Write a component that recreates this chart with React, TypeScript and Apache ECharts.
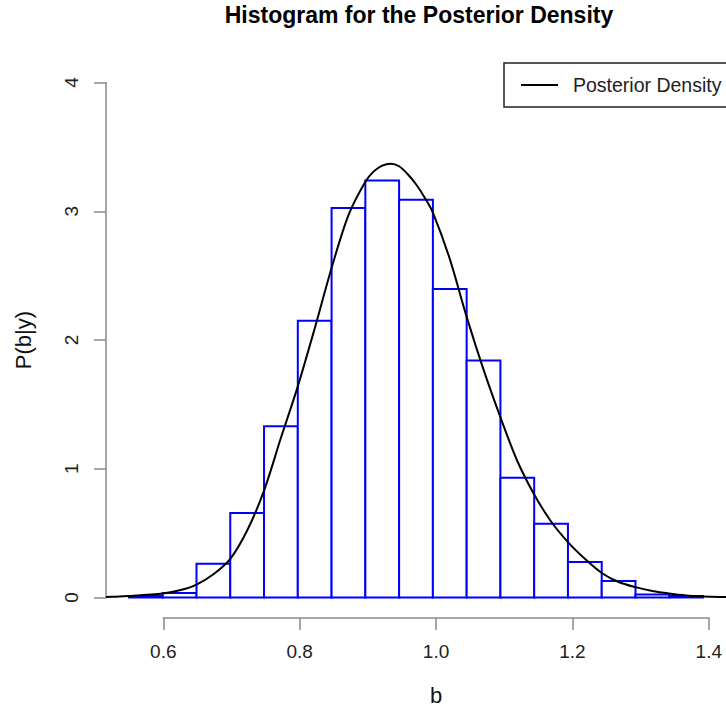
import React, { useEffect, useRef } from "react";
import * as echarts from "echarts";

// Histogram bins (edges) and densities
const binStarts = [0.55, 0.6, 0.65, 0.7, 0.75, 0.8, 0.85, 0.9, 0.95, 1.0, 1.05, 1.1, 1.15, 1.2, 1.25, 1.3, 1.35];
const binEnds = [0.6, 0.65, 0.7, 0.75, 0.8, 0.85, 0.9, 0.95, 1.0, 1.05, 1.1, 1.15, 1.2, 1.25, 1.3, 1.35, 1.4];
const binDensity = [0.01, 0.035, 0.262, 0.656, 1.33, 2.15, 3.025, 3.24, 3.09, 2.397, 1.84, 0.93, 0.573, 0.275, 0.127, 0.023, 0.01];

// Posterior density curve
const curveX = [0.516, 0.525, 0.55, 0.575, 0.6, 0.625, 0.65, 0.675, 0.7, 0.725, 0.75, 0.775, 0.8, 0.825, 0.85, 0.875, 0.9, 0.9125, 0.925, 0.9375, 0.95, 0.9625, 0.975, 0.9875, 1.0, 1.025, 1.05, 1.075, 1.1, 1.125, 1.15, 1.175, 1.2, 1.225, 1.25, 1.275, 1.3, 1.325, 1.35, 1.375, 1.4, 1.425, 1.45];
const curveY = [0.004, 0.005, 0.01, 0.02, 0.03, 0.055, 0.1, 0.18, 0.3, 0.52, 0.83, 1.24, 1.64, 2.09, 2.56, 2.97, 3.23, 3.31, 3.355, 3.37, 3.35, 3.29, 3.21, 3.11, 2.99, 2.63, 2.18, 1.77, 1.4, 1.06, 0.8, 0.59, 0.43, 0.3, 0.19, 0.12, 0.08, 0.05, 0.03, 0.015, 0.008, 0.004, 0.002];

// Axis ticks
const xTicks = [0.6, 0.8, 1.0, 1.2, 1.4];
const yTicks = [0, 1, 2, 3, 4];

const title = "Histogram for the Posterior Density";
const seriesName = "Posterior Density";
const xLabel = "b";
const yLabel = "P(b|y)";

export default function App() {
  const ref = useRef<HTMLDivElement>(null);
  useEffect(() => {
    if (!ref.current) return;
    const chart = echarts.init(ref.current, undefined, { renderer: "svg" });
    const font = "Liberation Sans, Arial, Helvetica, sans-serif";
    // plot region (R style, 4% extension of ranges)
    const xMin = 0.516, xMax = 1.434;
    const yMin = -0.16, yMax = 4.16;
    const gLeft = 106, gTop = 62, gW = 626, gH = 556;
    const pxPerX = gW / (xMax - xMin);
    const pxPerY = gH / (yMax - yMin);
    const xAxLeft = gLeft + (xTicks[0] - xMin) * pxPerX;
    const xAxW = (xTicks[xTicks.length - 1] - xTicks[0]) * pxPerX;
    const yAxTop = gTop + (yMax - yTicks[yTicks.length - 1]) * pxPerY;
    const yAxH = (yTicks[yTicks.length - 1] - yTicks[0]) * pxPerY;
    const axisColor = "#8a8a8a";

    const bars = binStarts.map((s, i) => [s, binEnds[i], binDensity[i]]);
    const curve = curveX.map((x, i) => [x, curveY[i]]);

    chart.setOption({
      animation: false,
      backgroundColor: "#ffffff",
      title: {
        text: title,
        left: gLeft + gW / 2,
        top: 3,
        textAlign: "center",
        padding: 0,
        textStyle: { fontFamily: font, fontSize: 23, fontWeight: "bold", color: "#000" },
      },
      legend: {
        data: [{ name: seriesName, icon: "rect" }],
        left: 504,
        top: 63,
        padding: [12, 14, 12, 17],
        itemWidth: 37,
        itemHeight: 2,
        borderColor: "#222",
        borderWidth: 1.5,
        borderRadius: 0,
        selectedMode: false,
        textStyle: { fontFamily: font, fontSize: 19.5, color: "#222", padding: [0, 0, 0, 10] },
      },
      grid: [
        { left: gLeft, top: gTop, width: gW, height: gH, containLabel: false },
        { left: xAxLeft, top: gTop + gH - 1, width: xAxW, height: 1, containLabel: false },
        { left: gLeft, top: yAxTop, width: 1, height: yAxH, containLabel: false },
      ],
      xAxis: [
        { type: "value", gridIndex: 0, min: xMin, max: xMax, show: false },
        {
          type: "value",
          gridIndex: 1,
          min: xTicks[0],
          max: xTicks[xTicks.length - 1],
          interval: 0.2,
          position: "bottom",
          name: xLabel,
          nameLocation: "middle",
          nameGap: 66,
          nameTextStyle: { fontFamily: font, fontSize: 22, color: "#111" },
          axisLine: { show: true, lineStyle: { color: axisColor, width: 1.5 } },
          axisTick: { show: true, length: 12, lineStyle: { color: axisColor, width: 1.5 } },
          axisLabel: {
            margin: 24,
            fontFamily: font,
            fontSize: 19,
            color: "#222",
            formatter: (v: number) => v.toFixed(1),
          },
          splitLine: { show: false },
        },
        { type: "value", gridIndex: 2, show: false, min: 0, max: 1 },
      ],
      yAxis: [
        { type: "value", gridIndex: 0, min: yMin, max: yMax, show: false },
        { type: "value", gridIndex: 1, show: false, min: 0, max: 1 },
        {
          type: "value",
          gridIndex: 2,
          min: yTicks[0],
          max: yTicks[yTicks.length - 1],
          interval: 1,
          position: "left",
          name: yLabel,
          nameLocation: "middle",
          nameGap: 72,
          nameTextStyle: { fontFamily: font, fontSize: 22, color: "#111" },
          axisLine: { show: true, lineStyle: { color: axisColor, width: 1.5 } },
          axisTick: { show: true, length: 12, lineStyle: { color: axisColor, width: 1.5 } },
          axisLabel: { rotate: 90, margin: 25, fontFamily: font, fontSize: 19, color: "#222" },
          splitLine: { show: false },
        },
      ],
      series: [
        {
          type: "custom",
          name: "Histogram",
          xAxisIndex: 0,
          yAxisIndex: 0,
          data: bars,
          encode: { x: [0, 1], y: 2 },
          renderItem: (params: any, api: any) => {
            const p0 = api.coord([api.value(0), api.value(2)]);
            const p1 = api.coord([api.value(1), 0]);
            return {
              type: "rect",
              shape: { x: p0[0], y: p0[1], width: p1[0] - p0[0], height: p1[1] - p0[1] },
              style: { fill: "#ffffff", stroke: "#0000ff", lineWidth: 2 },
            };
          },
          z: 2,
        },
        {
          type: "line",
          name: seriesName,
          xAxisIndex: 0,
          yAxisIndex: 0,
          data: curve,
          smooth: 0.3,
          showSymbol: false,
          symbol: "none",
          clip: true,
          itemStyle: { color: "#000" },
          lineStyle: { color: "#000", width: 2 },
          z: 3,
        },
      ],
    });
    return () => chart.dispose();
  }, []);
  return <div ref={ref} style={{ position: "fixed", left: 0, top: 0, width: 726, height: 713 }} />;
}
